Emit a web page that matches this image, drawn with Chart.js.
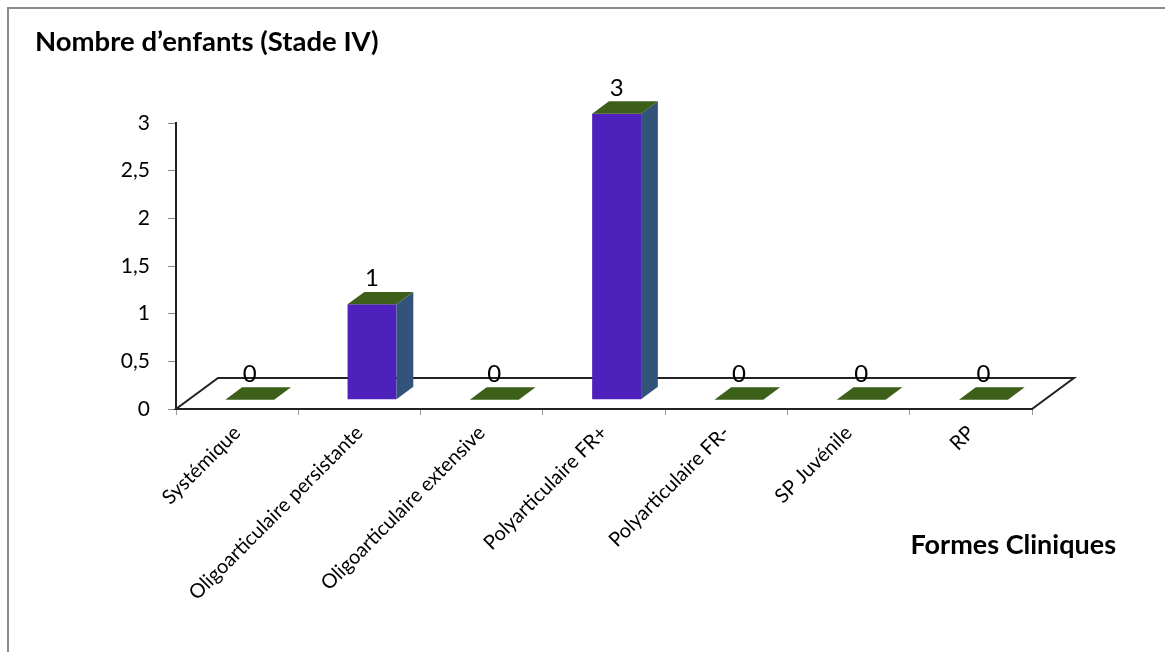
<!DOCTYPE html>
<html>
<head>
<meta charset="utf-8">
<script src="https://cdn.jsdelivr.net/npm/chart.js@4/dist/chart.umd.min.js"></script>
<style>
  html, body { margin: 0; padding: 0; background: #fff; overflow: hidden; }
  #frame {
    position: absolute; left: 7px; top: 7px;
    width: 1200px; height: 700px;
    border: 2px solid #8c8c8c; box-sizing: border-box;
  }
  #wrap { position: absolute; left: 0; top: 0; width: 1165px; height: 652px; }
</style>
</head>
<body>
<div id="frame"></div>
<div id="wrap"><canvas id="stadeIV" width="1165" height="652"></canvas></div>
<script>
const categories = [
  'Systémique',
  'Oligoarticulaire persistante',
  'Oligoarticulaire extensive',
  'Polyarticulaire FR+',
  'Polyarticulaire FR-',
  'SP Juvénile',
  'RP'
]
const enfants = [0, 1, 0, 3, 0, 0, 0]
const yTicks = [0, 0.5, 1, 1.5, 2, 2.5, 3]
const yTickLabels = ['0', '0,5', '1', '1,5', '2', '2,5', '3']

const FONT = 'Lato, "Open Sans", sans-serif'

// fake 3D: floor depth and where the bars sit inside it
const DEPTH_X = 42
const DEPTH_Y = -31
const FRONT = 0.3
const BACK = 0.7

const barFront = '#4e21bd'
const barSide = '#32537a'
const barTop = '#3c5f19'

const bars3d = {
  id: 'bars3d',
  beforeDatasetsDraw (chart) {
    const { ctx, chartArea: a } = chart
    ctx.save()
    ctx.beginPath()
    ctx.moveTo(a.left, a.bottom)
    ctx.lineTo(a.right, a.bottom)
    ctx.lineTo(a.right + DEPTH_X, a.bottom + DEPTH_Y)
    ctx.lineTo(a.left + DEPTH_X, a.bottom + DEPTH_Y)
    ctx.closePath()
    ctx.fillStyle = '#fff'
    ctx.fill()
    ctx.lineWidth = 2
    ctx.strokeStyle = '#222'
    ctx.stroke()
    ctx.restore()
    // push the front faces back into the floor
    ctx.save()
    ctx.translate(FRONT * DEPTH_X, FRONT * DEPTH_Y)
  },
  afterDatasetsDraw (chart) {
    const { ctx } = chart
    ctx.restore()
    const fx = FRONT * DEPTH_X
    const fy = FRONT * DEPTH_Y
    const bx = (BACK - FRONT) * DEPTH_X
    const by = (BACK - FRONT) * DEPTH_Y
    const meta = chart.getDatasetMeta(0)
    meta.data.forEach((bar, i) => {
      const { x, y, base, width } = bar.getProps(['x', 'y', 'base', 'width'], true)
      const l = x - width / 2 + fx
      const r = x + width / 2 + fx
      const t = y + fy
      const b = base + fy
      ctx.save()
      if (b - t > 0.5) {
        ctx.beginPath()
        ctx.moveTo(r, t)
        ctx.lineTo(r + bx, t + by)
        ctx.lineTo(r + bx, b + by)
        ctx.lineTo(r, b)
        ctx.closePath()
        ctx.fillStyle = barSide
        ctx.fill()
      }
      ctx.beginPath()
      ctx.moveTo(l, t)
      ctx.lineTo(r, t)
      ctx.lineTo(r + bx, t + by)
      ctx.lineTo(l + bx, t + by)
      ctx.closePath()
      ctx.fillStyle = barTop
      ctx.fill()

      ctx.fillStyle = '#000'
      ctx.font = '24px ' + FONT
      ctx.textAlign = 'center'
      ctx.textBaseline = 'alphabetic'
      ctx.fillText(String(enfants[i]), x + fx, t - 18)
      ctx.restore()
    })
  },
  afterDraw (chart) {
    const { ctx, chartArea: a } = chart
    ctx.save()
    ctx.fillStyle = '#000'
    ctx.font = 'bold 27px ' + FONT
    ctx.textAlign = 'right'
    ctx.textBaseline = 'alphabetic'
    ctx.fillText('Formes Cliniques', a.right + 84, a.bottom + 145)
    ctx.restore()
  }
}

new Chart(document.getElementById('stadeIV'), {
  type: 'bar',
  data: {
    labels: categories,
    datasets: [{
      label: 'Nombre d’enfants',
      data: enfants,
      backgroundColor: barFront,
      borderWidth: 0,
      categoryPercentage: 1,
      barPercentage: 0.4,
      clip: false
    }]
  },
  options: {
    responsive: false,
    animation: false,
    events: [],
    layout: { padding: { left: 35, right: 133, top: 0, bottom: 0 } },
    plugins: {
      legend: { display: false },
      tooltip: { enabled: false },
      title: {
        display: true,
        text: 'Nombre d’enfants (Stade IV)',
        align: 'start',
        color: '#000',
        font: { family: FONT, size: 27.5, weight: 'bold' },
        padding: { top: 26, bottom: 64 }
      }
    },
    scales: {
      x: {
        grid: { drawOnChartArea: false, tickLength: 6, color: '#999', offset: true },
        border: { display: true, color: '#222', width: 2 },
        ticks: {
          color: '#000',
          font: { family: FONT, size: 20 },
          maxRotation: 45,
          minRotation: 45,
          padding: 6,
          autoSkip: false
        },
        afterFit: scale => { scale.height = 243 }
      },
      y: {
        min: 0,
        max: 3,
        afterBuildTicks: scale => { scale.ticks = yTicks.map(v => ({ value: v })) },
        grid: { drawOnChartArea: false, tickLength: 8, color: '#888' },
        border: { display: true, color: '#222', width: 2 },
        ticks: {
          color: '#000',
          font: { family: FONT, size: 21 },
          padding: 18,
          callback: (v, i) => yTickLabels[i]
        },
        afterFit: scale => { scale.width = 141 }
      }
    }
  },
  plugins: [bars3d]
})
</script>
</body>
</html>
